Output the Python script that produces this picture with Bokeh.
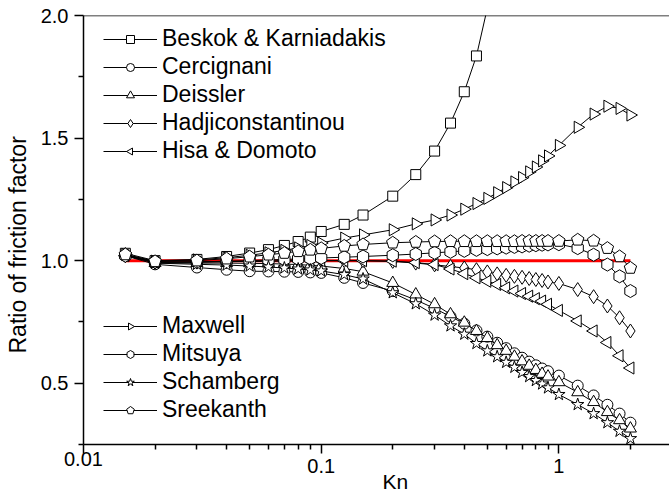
import numpy as np
from bokeh.plotting import figure
from bokeh.models import Legend, LegendItem, FixedTicker, PrintfTickFormatter, Span, Title
from bokeh.embed import file_html
from bokeh.resources import INLINE

# ---------------- data ----------------
KN = [0.015, 0.02, 0.03, 0.04, 0.05, 0.06, 0.07, 0.08, 0.09, 0.1, 0.125, 0.15,
      0.2, 0.25, 0.3, 0.35, 0.4, 0.45, 0.5, 0.55, 0.6, 0.65, 0.7, 0.75, 0.8,
      0.85, 0.9, 1.0, 1.2, 1.4, 1.6, 1.8, 2.0]

BESKOK = [1.03, 1.0, 1.005, 1.017, 1.031, 1.045, 1.062, 1.078, 1.096, 1.119, 1.148, 1.186,
          1.263, 1.351, 1.447, 1.561, 1.689, 1.835, 2.03]
CERCIGNANI = [1.02, 0.985, 0.972, 0.963, 0.957, 0.956, 0.955, 0.954, 0.952, 0.95, 0.93, 0.909,
              0.876, 0.84, 0.805, 0.772, 0.743, 0.715, 0.69, 0.665, 0.643, 0.622, 0.604, 0.588, 0.573,
              0.56, 0.549, 0.531, 0.49, 0.45, 0.412, 0.376, 0.339]
DEISSLER = [1.025, 0.99, 0.99, 0.99, 0.989, 0.988, 0.986, 0.984, 0.981, 0.978, 0.968, 0.955,
            0.909, 0.862, 0.822, 0.781, 0.747, 0.713, 0.684, 0.655, 0.632, 0.608, 0.589, 0.571, 0.554,
            0.538, 0.527, 0.504, 0.463, 0.423, 0.382, 0.349, 0.315]
HADJ = [1.02, 0.993, 0.994, 0.996, 0.997, 0.998, 0.999, 0.999, 1.0, 1.0, 1.0, 1.0,
        0.997, 0.99, 0.983, 0.976, 0.97, 0.963, 0.954, 0.946, 0.94, 0.936, 0.932, 0.927, 0.923,
        0.919, 0.913, 0.907, 0.882, 0.853, 0.815, 0.767, 0.713]
HISA = [1.02, 0.993, 0.994, 0.996, 0.997, 0.998, 0.999, 1.0, 1.0, 1.0, 1.0, 1.0,
        0.998, 0.992, 0.984, 0.966, 0.947, 0.93, 0.916, 0.903, 0.889, 0.876, 0.866, 0.855, 0.845,
        0.835, 0.822, 0.797, 0.754, 0.713, 0.666, 0.612, 0.562]
MAXWELL = [1.025, 0.998, 1.003, 1.012, 1.022, 1.032, 1.042, 1.052, 1.062, 1.072, 1.092, 1.105,
           1.126, 1.15, 1.166, 1.186, 1.21, 1.233, 1.254, 1.277, 1.298, 1.321, 1.339, 1.362, 1.382,
           1.407, 1.427, 1.47, 1.544, 1.598, 1.63, 1.621, 1.594]
MITSUYA = [1.02, 0.995, 0.995, 0.998, 1.0, 1.003, 1.005, 1.007, 1.009, 1.011, 1.014, 1.017,
           1.022, 1.027, 1.032, 1.036, 1.04, 1.044, 1.047, 1.05, 1.053, 1.056, 1.058, 1.061, 1.063,
           1.065, 1.066, 1.067, 1.051, 1.024, 0.984, 0.936, 0.876]
SCHAMBERG = [1.025, 0.99, 0.985, 0.982, 0.978, 0.974, 0.97, 0.966, 0.962, 0.958, 0.943, 0.925,
             0.869, 0.824, 0.778, 0.734, 0.70, 0.662, 0.632, 0.608, 0.585, 0.565, 0.544, 0.527, 0.511,
             0.497, 0.481, 0.454, 0.413, 0.376, 0.339, 0.304, 0.274]
SREEKANTH = [1.025, 0.997, 1.0, 1.008, 1.016, 1.024, 1.031, 1.038, 1.044, 1.05, 1.06, 1.066,
             1.073, 1.076, 1.078, 1.079, 1.079, 1.079, 1.079, 1.079, 1.079, 1.079, 1.08, 1.08, 1.08,
             1.08, 1.08, 1.08, 1.085, 1.081, 1.051, 1.017, 0.97]

REF_Y = 1.0
X_MAJOR = [0.01, 0.1, 1]
X_LABELS = ["0.01", "0.1", "1"]
Y_MAJOR = [0.5, 1.0, 1.5, 2.0]
Y_MINOR = [0.25, 0.75, 1.25, 1.75]
Y_MIN, Y_MAX = 0.25, 2.0
X_TITLE = "Kn"
Y_TITLE = "Ratio of friction factor"

FONT = "Liberation Sans"

p = figure(width=669, height=495, x_axis_type="log", x_range=(0.01, 2.92), y_range=(Y_MIN, Y_MAX),
           output_backend="svg", toolbar_location=None,
           min_border_left=83, min_border_right=0, min_border_top=15, min_border_bottom=51)
p.xgrid.visible = False
p.ygrid.visible = False
p.outline_line_color = None
p.background_fill_color = "white"

# red reference line
p.line(x=[KN[0], KN[-1]], y=[REF_Y, REF_Y], line_color="#ff0000", line_width=3)

def series(ys, marker=None, size=10, angle=0.0, ngon=None, radius=6.5):
    xs = KN[:len(ys)]
    lr = p.line(x=xs, y=ys, line_color="black", line_width=1)
    if ngon is not None:
        mr = p.ngon(x=xs, y=ys, radius=radius, radius_units="screen", n=ngon, angle=angle,
                    fill_color="white", line_color="black", line_width=1)
    else:
        mr = p.scatter(x=xs, y=ys, marker=marker, size=size, angle=angle,
                       fill_color="white", line_color="black", line_width=1)
    return [lr, mr]

r_b = series(BESKOK, "square", 10)
r_c = series(CERCIGNANI, "circle", 11)
r_d = series(DEISSLER, "triangle", 12)
r_h = series(HADJ, "diamond", 14)
r_hd = series(HISA, ngon=3, angle=np.pi / 2, radius=7)
r_m = series(MAXWELL, ngon=3, angle=-np.pi / 2, radius=7)
r_mi = series(MITSUYA, ngon=6, angle=0.0, radius=6.5)
r_s = series(SCHAMBERG, "star", 13)
r_sr = series(SREEKANTH, ngon=5, angle=0.0, radius=6.5)

# top border
p.add_layout(Span(location=Y_MAX, dimension="width", line_color="black", line_width=1.5))

# axes
p.xaxis.ticker = FixedTicker(ticks=X_MAJOR,
                             minor_ticks=[m * d for d in [0.01, 0.1, 1] for m in range(2, 10)])
# first label is drawn as a title below so it can stay centred on the frame edge
p.xaxis.major_label_overrides = {X_MAJOR[0]: "", X_MAJOR[1]: X_LABELS[1], X_MAJOR[2]: X_LABELS[2]}
p.yaxis.ticker = FixedTicker(ticks=Y_MAJOR, minor_ticks=Y_MINOR)
p.yaxis.formatter = PrintfTickFormatter(format="%.1f")

for ax in (p.xaxis[0], p.yaxis[0]):
    ax.axis_line_width = 1.5
    ax.axis_line_color = "black"
    ax.major_tick_line_width = 1.5
    ax.minor_tick_line_width = 1.5
    ax.major_tick_out = 9
    ax.major_tick_in = 0
    ax.minor_tick_out = 5
    ax.minor_tick_in = 0
    ax.major_label_text_font = FONT
    ax.major_label_text_font_size = "20px"
    ax.major_label_text_color = "black"
p.xaxis.major_label_standoff = 5
p.yaxis.major_label_standoff = 6

def side_title(text, size, **kw):
    return Title(text=text, text_font=FONT, text_font_size=size, text_font_style="normal",
                 text_color="black", **kw)

# below panel: axis (ticks + labels), then "Kn", then the "0.01" label pulled up
p.add_layout(side_title(X_TITLE, "21px", align="left", offset=299, vertical_align="top",
                        standoff=-12), "below")
p.add_layout(side_title(X_LABELS[0], "20px", align="left", offset=-19.5, vertical_align="top",
                        standoff=-74), "below")
# left panel: y axis title
p.add_layout(side_title(Y_TITLE, "23px", align="left", offset=91, vertical_align="top",
                        standoff=9), "left")

def make_legend(items, loc):
    lg = Legend(items=[LegendItem(label=l, renderers=r) for l, r in items], location=loc,
                label_text_font=FONT, label_text_font_size="23px", label_text_color="black",
                glyph_width=54, glyph_height=20, label_height=25, spacing=1, padding=0, margin=0,
                label_standoff=5, border_line_color=None, background_fill_alpha=0)
    return lg

p.add_layout(make_legend([("Beskok & Karniadakis", r_b), ("Cercignani", r_c), ("Deissler", r_d),
                          ("Hadjiconstantinou", r_h), ("Hisa & Domoto", r_hd)], (20, 280)), "center")
p.add_layout(make_legend([("Maxwell", r_m), ("Mitsuya", r_mi), ("Schamberg", r_s),
                          ("Sreekanth", r_sr)], (20, 21)), "center")

open("out.html", "w").write(file_html(p, INLINE))
